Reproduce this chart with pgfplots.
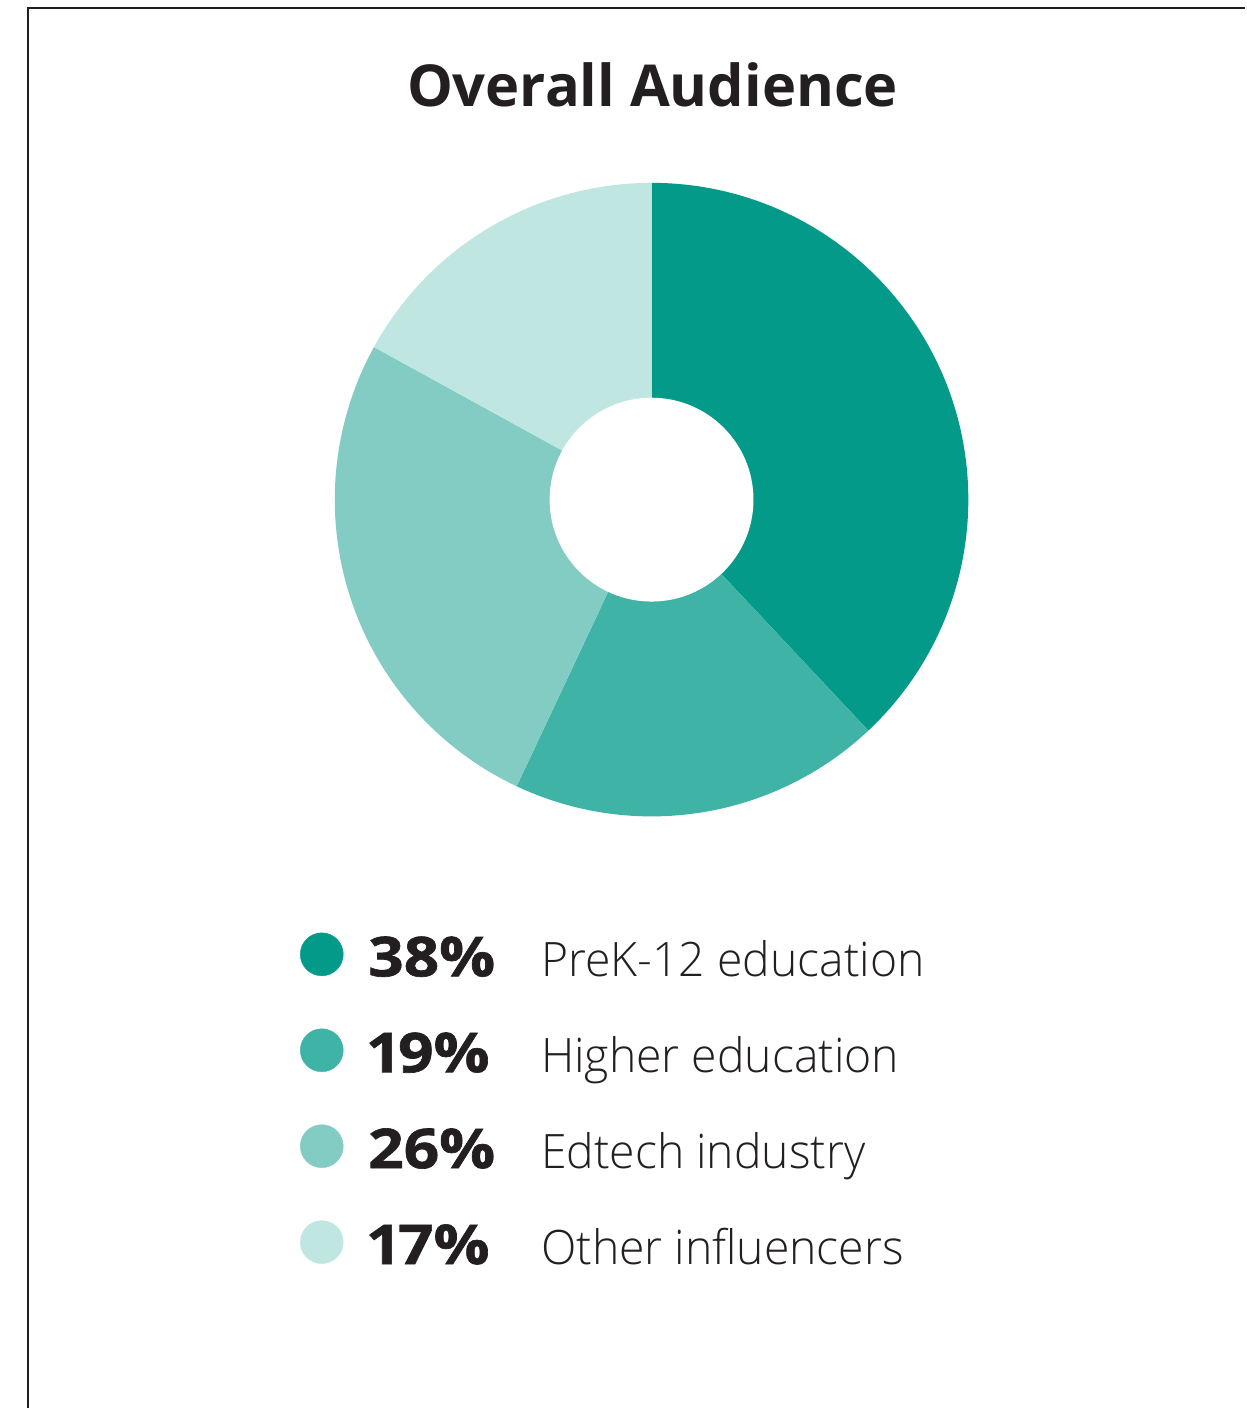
\documentclass[border=0pt]{standalone}
\usepackage{fontspec}
\setmainfont{Open Sans}
\newfontfamily\lightfont{Open Sans Light}[FakeStretch=0.975]
\newfontfamily\pctfont{Open Sans Bold}[FakeStretch=1.13, FakeBold=1.2, Numbers=Proportional]
\usepackage{pgfplots}
\usepackage{pgfplotstable}
\pgfplotsset{compat=1.18}

\definecolor{c1}{HTML}{039A8A}
\definecolor{c2}{HTML}{40B3A7}
\definecolor{c3}{HTML}{82CCC4}
\definecolor{c4}{HTML}{C0E6E2}
\definecolor{ink}{HTML}{231F20}

\pgfplotstableread[col sep=comma]{
pct,label,color,ypos
38,PreK-12 education,c1,0
19,Higher education,c2,1
26,Edtech industry,c3,2
17,Other influencers,c4,3
}\datatable

\begin{document}
\begin{tikzpicture}
\begin{axis}[
  hide axis, scale only axis, width=1246pt, height=1409pt,
  xmin=0, xmax=1246, ymin=0, ymax=1409, clip=false,
  disabledatascaling, anchor=south west, at={(0,0)}]
\path (axis cs:0,0) rectangle (axis cs:1246,1409);
% frame
\addplot[ink, line width=2pt] coordinates {(28.5,0) (28.5,1400.5) (1246,1400.5)};
% title
\node[anchor=base, text=ink, font=\fontsize{57.8}{60}\selectfont\bfseries] at (axis cs:653,1302) {Overall Audience};
% donut
\def\start{90}
\pgfplotsforeachungrouped \i in {0,...,3}{
  \pgfplotstablegetelem{\i}{pct}\of\datatable \let\p\pgfplotsretval
  \pgfplotstablegetelem{\i}{color}\of\datatable \let\c\pgfplotsretval
  \pgfplotstablegetelem{\i}{label}\of\datatable \let\lab\pgfplotsretval
  \pgfmathsetmacro\endang{\start - 3.6*\p}
  \pgfmathsetmacro\ly{454 - 96*\i}
  \pgfmathsetmacro\by{432 - 96*\i}
  \edef\temp{%
    \noexpand\fill[\c] (axis cs:652,909) -- ++(\start:317pt) arc[start angle=\start, end angle=\endang, radius=317pt] -- cycle;
    \noexpand\addplot[only marks, mark=*, mark size=21.5pt, color=\c, draw=none] coordinates {(322,\ly)};
    \noexpand\node[anchor=base west, text=ink, font=\noexpand\fontsize{55}{58}\noexpand\selectfont\noexpand\pctfont] at (axis cs:365,\by) {\p\noexpand\%};
    \noexpand\node[anchor=base west, text=ink, font=\noexpand\fontsize{47.5}{52}\noexpand\selectfont\noexpand\lightfont] at (axis cs:538,\by) {\lab};
  }
  \temp
  \let\start\endang
}
\fill[white] (axis cs:652,909) circle[radius=102pt];
\end{axis}
\end{tikzpicture}
\end{document}
